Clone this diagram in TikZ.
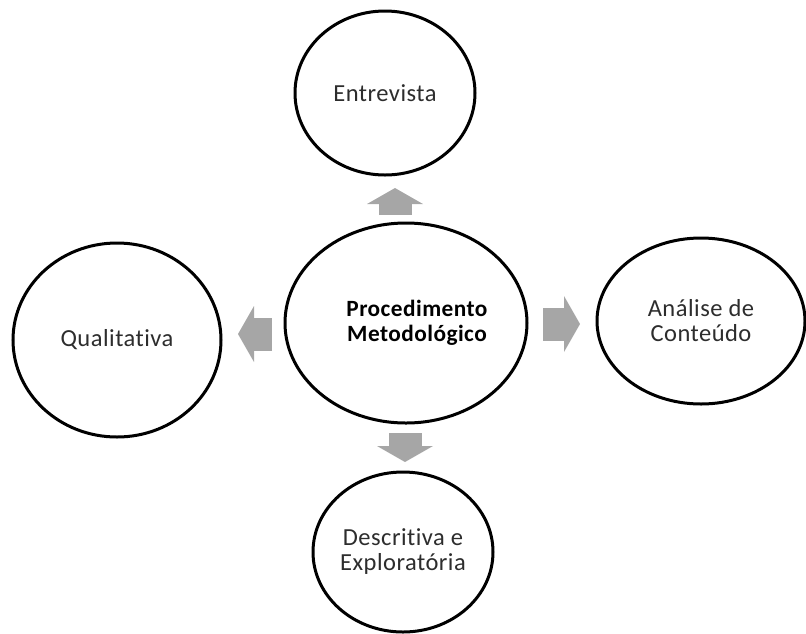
\documentclass[tikz,border=0pt]{standalone}
\usepackage{fontspec}
\setmainfont{Carlito}[Ligatures=NoCommon,LetterSpace=2]
\usepackage{tikz}
\usetikzlibrary{arrows.meta}
\usetikzlibrary{shapes.geometric}
\usetikzlibrary{positioning,calc}
\definecolor{arrowgray}{RGB}{166,166,166}
\definecolor{textgray}{RGB}{45,45,45}
\tikzset{
	every node/.style={font=\fontsize{24.5}{25}\selectfont,text=textgray}
}
\tikzset{
	main node/.style={ellipse,draw=black,line width=3pt,fill=white,inner sep=0pt,outer sep=0pt,align=center},
	flow/.style={line width=33pt,draw=arrowgray,-{Triangle[length=16pt,width=56pt,line width=0pt]}}
}

\begin{document}
\begin{tikzpicture}
      \useasboundingbox (0,0) rectangle (806pt,-633pt);
      \node[main node,minimum width=242pt,minimum height=200pt,text=black,font=\bfseries\fontsize{23.3}{25}\selectfont] (centre) at (406pt,-323pt) {\hspace*{22pt}Procedimento\\\hspace*{22pt}Metodológico};
      \node[main node,minimum width=180pt,minimum height=164pt] (top) [above=48pt of centre,xshift=-21pt] {Entrevista};
      \node[main node,minimum width=208pt,minimum height=194pt] (left) [left=64pt of centre,yshift=-17pt] {Qualitativa};
      \node[main node,minimum width=208pt,minimum height=166pt] (right) [right=70pt of centre,yshift=2pt] {Análise de\\Conteúdo};
      \node[main node,minimum width=180pt,minimum height=160pt] (bottom) [below=49pt of centre,xshift=-3pt] {Descritiva e\\Exploratória};
      % block arrows in the gaps
      \coordinate (upTail) at ([xshift=-11pt,yshift=8pt]centre.north);
      \coordinate (upTip) at ([xshift=10pt,yshift=-13pt]top.south);
      \coordinate (leftTail) at ([xshift=-13pt,yshift=-11pt]centre.west);
      \coordinate (leftTip) at ([xshift=17pt,yshift=6pt]left.east);
      \coordinate (rightTail) at ([xshift=16pt,yshift=-1pt]centre.east);
      \coordinate (rightTip) at ([xshift=-17pt,yshift=-3pt]right.west);
      \coordinate (downTail) at ([xshift=-1pt,yshift=-10pt]centre.south);
      \coordinate (downTip) at ([xshift=2pt,yshift=10pt]bottom.north);
      \path (upTail) edge[flow] (upTip);
      \path (leftTail) edge[flow] (leftTip);
      \path (rightTail) edge[flow] (rightTip);
      \path (downTail) edge[flow] (downTip);
\end{tikzpicture}
\end{document}
